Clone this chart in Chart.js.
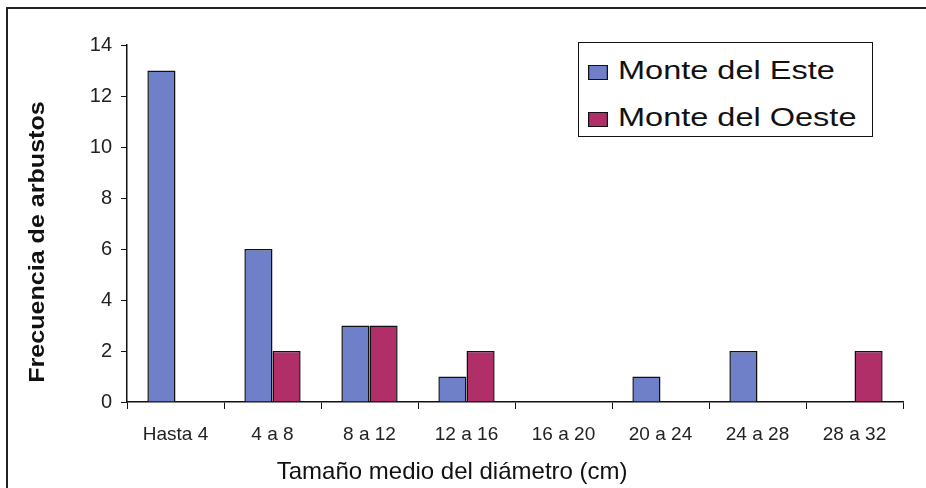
<!DOCTYPE html>
<html>
<head>
<meta charset="utf-8">
<script src="https://cdn.jsdelivr.net/npm/chart.js@4.4.0/dist/chart.umd.min.js"></script>
<style>
  html, body { margin: 0; padding: 0; background: #fff; overflow: hidden; }
  #wrap { position: relative; width: 926px; height: 488px; overflow: hidden; font-family: Arial, 'Liberation Sans', sans-serif; }
  #frame { position: absolute; left: 6px; top: 7px; width: 2000px; height: 2000px; border-left: 2px solid #222; border-top: 2px solid #222; }
  #legend { position: absolute; left: 578px; top: 42px; width: 293px; height: 93px; border: 1.5px solid #111; background: #fff; }
  .item { position: absolute; left: 9px; height: 30px; line-height: 30px; font-size: 26px; color: #111; white-space: nowrap; transform: scaleX(1.25); transform-origin: left center; }
  .box { display: inline-block; width: 14px; height: 13px; border: 1.5px solid #111; margin-right: 8px; vertical-align: -1px; }
</style>
</head>
<body>
<div id="wrap">
  <div id="frame"></div>
  <canvas id="arbustos" width="926" height="488"></canvas>
  <div id="legend"></div>
</div>
<script>
// Frecuencia de arbustos por tamaño
const categorias = ['Hasta 4', '4 a 8', '8 a 12', '12 a 16', '16 a 20', '20 a 24', '24 a 28', '28 a 32'];
const monteEste = [13, 6, 3, 1, 0, 1, 2, 0];
const monteOeste = [0, 2, 3, 2, 0, 0, 0, 2];
const nombres = ['Monte del Este', 'Monte del Oeste'];
const colores = ['#6f80c8', '#b02f68'];
const tituloX = 'Tamaño medio del diámetro (cm)';
const tituloY = 'Frecuencia de arbustos';

// axis titles drawn by hand: the original has them off-centre and a bit stretched
const axisTitlesPlugin = {
  id: 'axisTitles',
  afterDraw(chart) {
    const { ctx, chartArea } = chart;
    ctx.save();
    ctx.fillStyle = '#111';
    ctx.textAlign = 'center';
    ctx.textBaseline = 'middle';
    ctx.font = '24px Arial';
    ctx.fillText(tituloX, chartArea.left + (chartArea.right - chartArea.left) * 0.419, 472);

    ctx.translate(38, chartArea.top + (chartArea.bottom - chartArea.top) * 0.552);
    ctx.rotate(-Math.PI / 2);
    ctx.scale(1.14, 1);
    ctx.font = 'bold 22px Arial';
    ctx.fillText(tituloY, 0, 0);
    ctx.restore();
  }
};

const ctx = document.getElementById('arbustos').getContext('2d');
const chart = new Chart(ctx, {
  type: 'bar',
  data: {
    labels: categorias,
    datasets: [
      { label: nombres[0], data: monteEste, backgroundColor: colores[0], borderColor: '#111', borderWidth: 1.5 },
      { label: nombres[1], data: monteOeste, backgroundColor: colores[1], borderColor: '#111', borderWidth: 1.5 }
    ]
  },
  plugins: [axisTitlesPlugin],
  options: {
    responsive: false,
    animation: false,
    layout: { padding: { left: 10, top: 45, right: 23, bottom: 0 } },
    datasets: { bar: { barPercentage: 1, categoryPercentage: 0.58 } },
    plugins: { legend: { display: false }, tooltip: { enabled: false } },
    scales: {
      x: {
        grid: { display: true, drawOnChartArea: false, color: '#111', tickLength: 7, offset: true },
        border: { color: '#111', width: 1.5 },
        ticks: { color: '#222', font: { family: 'Arial', size: 19 }, padding: 14, maxRotation: 0 },
        afterFit: (axis) => { axis.height = 86; }
      },
      y: {
        min: 0,
        max: 14,
        grid: { display: true, drawOnChartArea: false, color: '#111', tickLength: 6 },
        border: { color: '#111', width: 1.5 },
        ticks: { stepSize: 2, color: '#222', font: { family: 'Arial', size: 20 }, padding: 9 },
        afterFit: (axis) => { axis.width = 117; }
      }
    }
  }
});

// leyenda
let legendHTML = '';
for (let i = 0; i < nombres.length; i++) {
  legendHTML += `<div class="item" style="top:${12 + i * 47}px"><span class="box" style="background:${colores[i]}"></span>${nombres[i]}</div>`;
}
document.getElementById('legend').innerHTML = legendHTML;
</script>
</body>
</html>
